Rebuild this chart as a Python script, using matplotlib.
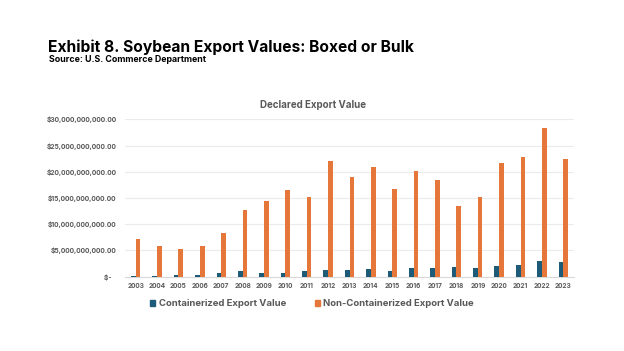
import matplotlib
matplotlib.use("Agg")
import matplotlib.pyplot as plt
import numpy as np
from matplotlib.ticker import FuncFormatter
from matplotlib.patches import Rectangle

years = [str(y) for y in range(2003, 2024)]
containerized = [0.05, 0.1, 0.33, 0.28, 0.65, 1.02, 0.76, 0.8, 1.02, 1.2, 1.22, 1.46, 1.08,
                 1.65, 1.72, 1.84, 1.72, 2.1, 2.23, 3.05, 2.8]
non_containerized = [7.13, 5.85, 5.28, 5.85, 8.39, 12.77, 14.49, 16.58, 15.13, 22.11, 19.06,
                     20.9, 16.66, 20.09, 18.45, 13.49, 15.2, 21.63, 22.77, 28.37, 22.45]
containerized = [v * 1e9 for v in containerized]
non_containerized = [v * 1e9 for v in non_containerized]
yticks = [0, 5e9, 10e9, 15e9, 20e9, 25e9, 30e9]

BLUE = "#1d5b79"
ORANGE = "#e5773a"
GREY = "#595959"
FONT = ["Inter", "DejaVu Sans"]
W, H = 624, 351

fig = plt.figure(figsize=(6.24, 3.51), dpi=100)
fig.patch.set_facecolor("white")
renderer = fig.canvas.get_renderer()


def fit(t, target_px):
    for _ in range(3):
        w = t.get_window_extent(renderer).width
        t.set_fontsize(t.get_fontsize() * target_px / w)
    return t.get_fontsize()


def measure_size(text, target_px):
    t = fig.text(0, 0, text, fontsize=10, fontweight="bold", family=FONT)
    s = fit(t, target_px)
    t.remove()
    return s


ax = fig.add_axes([125 / W, 1 - 276.7 / H, (574 - 125) / W, (276.7 - 119.3) / H])

x = np.arange(len(years))
bw = 0.22
ax.bar(x - bw / 2, containerized, width=bw, color=BLUE, zorder=3)
ax.bar(x + bw / 2, non_containerized, width=bw, color=ORANGE, zorder=3)

ax.set_xlim(-0.5, len(years) - 0.5)
ax.set_ylim(0, 30e9)
ax.set_yticks(yticks)


def fmt(v, pos):
    if v == 0:
        return "$-   "
    return "${:,.2f}".format(v)


ax.yaxis.set_major_formatter(FuncFormatter(fmt))
ax.set_xticks(x)
ax.set_xticklabels(years)
ax.grid(axis="y", color="#ebebeb", linewidth=0.8, zorder=0)
for s in ["top", "right", "left"]:
    ax.spines[s].set_visible(False)
ax.spines["bottom"].set_color("#d9d9d9")

xs = measure_size("2003", 17)
ys = measure_size("$30,000,000,000.00", 70)
ax.tick_params(axis="x", length=0, colors=GREY, labelsize=xs, pad=4.5)
ax.tick_params(axis="y", length=0, colors=GREY, labelsize=ys, pad=6)
for lab in ax.get_xticklabels() + ax.get_yticklabels():
    lab.set_fontweight("bold")
    lab.set_family(FONT)

ct = fig.text(313 / W, 1 - 105 / H, "Declared Export Value", ha="center", va="center",
              fontsize=7, fontweight="bold", color=GREY, family=FONT)
fit(ct, 106)

t1 = fig.text(48.3 / W, 1 - 51.7 / H, "Exhibit 8. Soybean Export Values: Boxed or Bulk",
              ha="left", va="baseline", fontsize=11.3, fontweight="bold", color="black", family=FONT)
fit(t1, 365)
t2 = fig.text(49 / W, 1 - 62.3 / H, "Source: U.S. Commerce Department",
              ha="left", va="baseline", fontsize=6.5, fontweight="bold", color="black", family=FONT)
fit(t2, 157)

# legend
ls = measure_size("Containerized Export Value", 127)
fs_px = ls * 100 / 72
hl = 4.8 / fs_px
leg = ax.legend(handles=[Rectangle((0, 0), 1, 1, color=BLUE), Rectangle((0, 0), 1, 1, color=ORANGE)],
                labels=["Containerized Export Value", "Non-Containerized Export Value"],
                loc="center", bbox_to_anchor=(312 / W, 1 - 304 / H),
                bbox_transform=fig.transFigure, ncol=2, frameon=False,
                handlelength=hl, handleheight=hl, handletextpad=3.7 / fs_px,
                columnspacing=29 / fs_px, borderpad=0,
                prop={"size": ls, "weight": "bold", "family": FONT})
for t in leg.get_texts():
    t.set_color(GREY)

fig.savefig("out.png", dpi=100, facecolor="white")
